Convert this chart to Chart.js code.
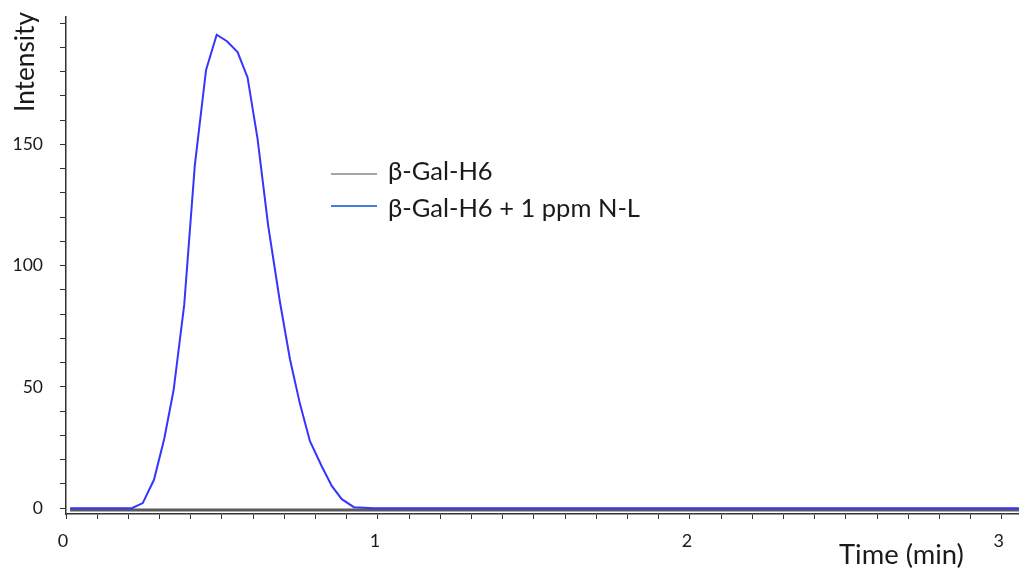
<!DOCTYPE html>
<html><head><meta charset="utf-8">
<script src="https://cdn.jsdelivr.net/npm/chart.js@4.4.1/dist/chart.umd.min.js"></script>
<style>html,body{margin:0;padding:0;background:#fff;overflow:hidden}</style>
</head><body>
<canvas id="c" width="1019" height="568"></canvas>
<script>
// ---- data ----
const seriesNames = ['β-Gal-H6', 'β-Gal-H6 + 1 ppm N-L'];
const blueTimes  = [0.013, 0.211, 0.246, 0.282, 0.315, 0.345, 0.379, 0.413, 0.449, 0.483, 0.516, 0.550, 0.582, 0.614, 0.648, 0.686, 0.718, 0.750, 0.782, 0.819, 0.852, 0.884, 0.923, 0.985, 3.055];
const blueValues = [0,     0,     2.1,   11.7,  28.6,  48.7,  83.9,  141.4, 180.7, 195.2, 192.5, 188.0, 177.6, 152.4, 116.6, 84.9,  61.4,  43.0,  27.6,  17.5,  9.2,   3.7,   0.4,   0,     0];
const grayTimes  = [0.013, 3.055];
const grayValues = [-0.8, -0.8];
const xLabelValues = [0, 1, 2, 3];
const yLabelValues = [0, 50, 100, 150];
const xAxisTitle = 'Time (min)';
const yAxisTitle = 'Intensity';

const xMinorTicks = []; for (let i = 0; i <= 30; i++) xMinorTicks.push(i / 10);
const yMinorTicks = []; for (let i = 0; i <= 20; i++) yMinorTicks.push(i * 10);

const TXT = '#1a1a1a';
const FAM = 'Lato, "Open Sans", sans-serif';

function fitFont(ctx, text, width, weight) {
  ctx.font = `${weight||''} 20px ${FAM}`;
  const w = ctx.measureText(text).width;
  return 20 * width / w;
}

const overlay = {
  id: 'overlay',
  afterDraw(chart) {
    const ctx = chart.ctx;
    ctx.save();
    ctx.fillStyle = TXT;
    ctx.textBaseline = 'alphabetic';
    ctx.textAlign = 'left';
    // y title
    let fs = fitFont(ctx, yAxisTitle, 100);
    ctx.font = `${fs}px ${FAM}`;
    ctx.save();
    ctx.translate(33.5, 112);
    ctx.rotate(-Math.PI / 2);
    ctx.fillText(yAxisTitle, 0, 0);
    ctx.restore();
    // x title
    fs = fitFont(ctx, xAxisTitle, 125);
    ctx.font = `${fs}px ${FAM}`;
    ctx.fillText(xAxisTitle, 839, 564);
    // legend
    fs = fitFont(ctx, seriesNames[1], 252);
    ctx.font = `${fs}px ${FAM}`;
    ctx.lineWidth = 2;
    ctx.strokeStyle = '#a6a6a6';
    ctx.beginPath(); ctx.moveTo(331, 174); ctx.lineTo(377, 174); ctx.stroke();
    ctx.strokeStyle = '#3f7fdd';
    ctx.beginPath(); ctx.moveTo(331, 206); ctx.lineTo(377, 206); ctx.stroke();
    ctx.fillText(seriesNames[0], 388, 180);
    ctx.fillText(seriesNames[1], 388, 216.5);
    ctx.restore();
  }
};

new Chart(document.getElementById('c'), {
  type: 'line',
  data: {
    datasets: [
      { label: seriesNames[1], data: blueTimes.map((t, i) => ({ x: t, y: blueValues[i] })),
        borderColor: '#3535ff', borderWidth: 2, pointRadius: 0, tension: 0, fill: false },
      { label: seriesNames[0], data: grayTimes.map((t, i) => ({ x: t, y: grayValues[i] })),
        borderColor: '#5a5a5a', borderWidth: 3, pointRadius: 0, tension: 0, fill: false }
    ]
  },
  options: {
    responsive: false,
    animation: false,
    devicePixelRatio: 1,
    layout: { padding: { top: 17, right: 0, left: 0, bottom: 0 } },
    plugins: { legend: { display: false }, tooltip: { enabled: false } },
    scales: {
      x: {
        type: 'linear', min: 0, max: 3.055,
        afterBuildTicks: s => { s.ticks = xMinorTicks.map(v => ({ value: v })); },
        afterFit: s => { s.height = 54; s.paddingLeft = 0; s.paddingRight = 0; },
        ticks: {
          autoSkip: false, maxRotation: 0, minRotation: 0, padding: 11, labelOffset: -3, color: TXT,
          font: { family: FAM, size: 18 },
          callback: v => { const r = Math.round(v); return (Math.abs(v - r) < 1e-6 && xLabelValues.includes(r)) ? String(r) : ''; }
        },
        grid: { drawOnChartArea: false, drawTicks: true, tickLength: 5, tickColor: '#333', tickWidth: 1 },
        border: { display: true, color: '#333', width: 1.5 }
      },
      y: {
        type: 'linear', min: -2.4, max: 202.5,
        afterBuildTicks: s => { s.ticks = yMinorTicks.map(v => ({ value: v })); },
        afterFit: s => { s.width = 66; s.paddingTop = 0; s.paddingBottom = 0; },
        ticks: {
          autoSkip: false, padding: 17, color: TXT, font: { family: FAM, size: 17.5 },
          callback: v => { const r = Math.round(v); return yLabelValues.includes(r) ? String(r) : ''; }
        },
        grid: { drawOnChartArea: false, drawTicks: true, tickLength: 6, tickColor: '#333', tickWidth: 1 },
        border: { display: true, color: '#333', width: 1.5 }
      }
    }
  },
  plugins: [overlay]
});
</script>
</body></html>
